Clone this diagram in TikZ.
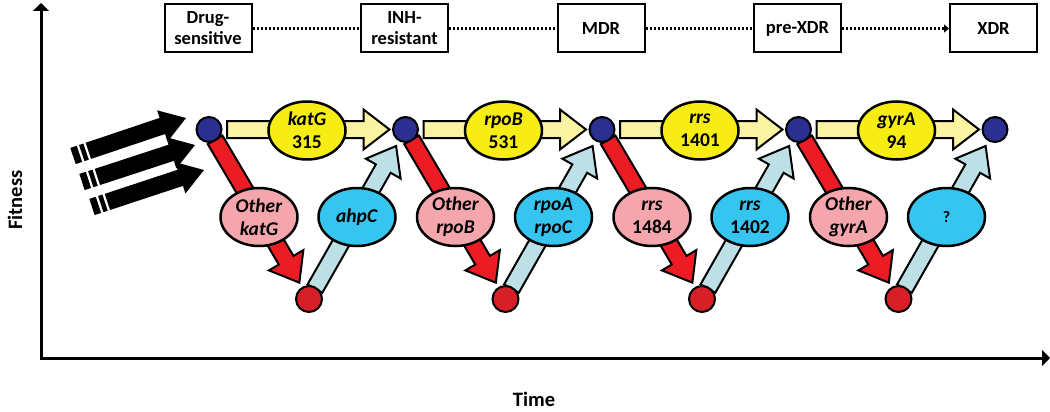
\documentclass[tikz,border=0pt]{standalone}
\usepackage{fontspec}
\setmainfont{Carlito}
\usetikzlibrary{calc,shapes.geometric,arrows.meta}
\definecolor{ylw}{HTML}{F7EC13}
\definecolor{ylwarr}{HTML}{FAF3A2}
\definecolor{pinkE}{HTML}{F5A6AC}
\definecolor{cyanE}{HTML}{36C5F0}
\definecolor{ltblue}{HTML}{BDE0E6}
\definecolor{redarr}{HTML}{EC1C24}
\definecolor{dotblue}{HTML}{2B2F8F}
\definecolor{dotred}{HTML}{D71F27}
\newcommand\fatarrow[6]{%
  \coordinate (fah) at ($(#2)!#5!(#1)$);
  \path[#6] ($(#1)!#3!90:(#2)$) -- ($(fah)!#3!90:(#2)$) -- ($(fah)!#4!90:(#2)$) -- (#2)
    -- ($(fah)!#4!-90:(#2)$) -- ($(fah)!#3!-90:(#2)$) -- ($(#1)!#3!-90:(#2)$) -- cycle;
}
\tikzset{
  txt/.style={font=\bfseries\fontsize{19.5}{23}\selectfont},
  ell/.style={ellipse, draw=black, line width=2.5pt, minimum width=77pt, minimum height=58pt, inner sep=0pt, align=center, txt},
  yellowell/.style={ell, fill=ylw},
  pinkell/.style={ell, fill=pinkE},
  cyanell/.style={ell, fill=cyanE},
  bluedot/.style={circle, draw=black, line width=2pt, fill=dotblue, minimum size=25pt, inner sep=0pt},
  reddot/.style={circle, draw=black, line width=2pt, fill=dotred, minimum size=26pt, inner sep=0pt},
  stagebox/.style={draw=black, line width=2pt, minimum width=87pt, minimum height=48pt, inner sep=0pt, align=center, font=\bfseries\fontsize{18.5}{21}\selectfont},
  axislabel/.style={font=\bfseries\fontsize{20.5}{24}\selectfont, inner sep=0pt},
  fatline/.style={draw=black, line width=2pt, line join=miter},
  dotline/.style={line width=2.2pt, dash pattern=on 2pt off 2pt},
  axis/.style={line width=3pt, line join=miter},
}
\begin{document}
\begin{tikzpicture}[x=1pt,y=-1pt]
\useasboundingbox (0,0) rectangle (1050,412);

% coordinates of the dots
\foreach \i in {1,...,5}{
  \pgfmathsetmacro\bx{209+196.5*(\i-1)}
  \coordinate (b\i) at (\bx,129.5);
}
\foreach \i in {1,...,4}{
  \pgfmathsetmacro\bx{209+196.5*(\i-1)}
  \coordinate (r\i) at (\bx+100,299);
}

% axes
\coordinate (origin) at (41,358);
\coordinate (ytop) at (41,3);
\coordinate (xend) at (1050,358);
\draw[axis, {Triangle[length=8pt,width=16pt]}-{Triangle[length=8pt,width=16pt]}] (ytop) -- (origin) -- (xend);
\node[axislabel, rotate=90] (fit) at (15,200) {Fitness};
\node[axislabel] (time) at (534,399) {Time};

% stage boxes
\node[stagebox] (s1) at (208,28.5) {Drug-\\sensitive};
\node[stagebox] (s2) at (404.5,28.5) {INH-\\resistant};
\node[stagebox] (s3) at (601,28.5) {MDR};
\node[stagebox] (s4) at (797.5,28.5) {pre-XDR};
\node[stagebox] (s5) at (993.5,28.5) {XDR};
\draw[dotline] (s1.east) -- (s2.west);
\draw[dotline] (s2.east) -- (s3.west);
\draw[dotline] (s3.east) -- (s4.west);
\draw[dotline, -{Triangle[length=5pt,width=8pt]}] (s4.east) -- (s5.west);

% incoming black arrows
\coordinate (k1t) at (73,156);  \coordinate (k1h) at (186,118);
\coordinate (k2t) at (82,182);  \coordinate (k2h) at (195,145);
\coordinate (k3t) at (92,207);  \coordinate (k3h) at (204,170);
\foreach \k in {1,2,3}{
  \fatarrow{k\k t}{k\k h}{8.5pt}{16.5pt}{25pt}{fill=black}
  \coordinate (g1) at ($(k\k t)!8pt!(k\k h)$);
  \coordinate (g2) at ($(k\k t)!15pt!(k\k h)$);
  \draw[white, line width=2.2pt] ($(g1)!11pt!90:(k\k h)$) -- ($(g1)!11pt!-90:(k\k h)$);
  \draw[white, line width=2.2pt] ($(g2)!11pt!90:(k\k h)$) -- ($(g2)!11pt!-90:(k\k h)$);
}

% fat arrows between dots
\foreach \i [evaluate=\i as \j using int(\i+1)] in {1,...,4}{
  \coordinate (ys\i) at ($(b\i)!18pt!(b\j)$);
  \coordinate (ye\i) at ($(b\j)!16pt!(b\i)$);
  \fatarrow{ys\i}{ye\i}{8.5pt}{20pt}{26pt}{fatline, fill=ylwarr}
  \coordinate (rs\i) at ($(b\i)!12pt!(r\i)$);
  \coordinate (re\i) at ($(r\i)!19pt!(b\i)$);
  \fatarrow{rs\i}{re\i}{8.5pt}{20pt}{26pt}{fatline, fill=redarr}
  \coordinate (ls\i) at ($(r\i)!12pt!(b\j)$);
  \coordinate (le\i) at ($(b\j)!19pt!(r\i)$);
  \fatarrow{ls\i}{le\i}{8.5pt}{20pt}{26pt}{fatline, fill=ltblue}
}

% ellipses
\node[yellowell] (y1) at ($(b1)+(98,1)$) {\textit{katG}\\315};
\node[yellowell] (y2) at ($(b2)+(98,1)$) {\textit{rpoB}\\531};
\node[yellowell] (y3) at ($(b3)+(98,1)$) {\textit{rrs}\\1401};
\node[yellowell] (y4) at ($(b4)+(98,1)$) {\textit{gyrA}\\94};

\node[pinkell] (p1) at ($(b1)+(50,87.5)$) {\textit{Other}\\\textit{katG}};
\node[pinkell] (p2) at ($(b2)+(50,87.5)$) {\textit{Other}\\\textit{rpoB}};
\node[pinkell] (p3) at ($(b3)+(50,87.5)$) {\textit{rrs}\\1484};
\node[pinkell] (p4) at ($(b4)+(50,87.5)$) {\textit{Other}\\\textit{gyrA}};

\node[cyanell] (c1) at ($(b1)+(148,87.5)$) {\textit{ahpC}};
\node[cyanell] (c2) at ($(b2)+(148,87.5)$) {\textit{rpoA}\\\textit{rpoC}};
\node[cyanell] (c3) at ($(b3)+(148,87.5)$) {\textit{rrs}\\1402};
\node[cyanell, font=\bfseries\fontsize{16}{19}\selectfont] (c4) at ($(b4)+(148,87.5)$) {?};

% dots
\foreach \i in {1,...,5}{ \node[bluedot] (B\i) at (b\i) {}; }
\foreach \i in {1,...,4}{ \node[reddot] (R\i) at (r\i) {}; }
\end{tikzpicture}
\end{document}
